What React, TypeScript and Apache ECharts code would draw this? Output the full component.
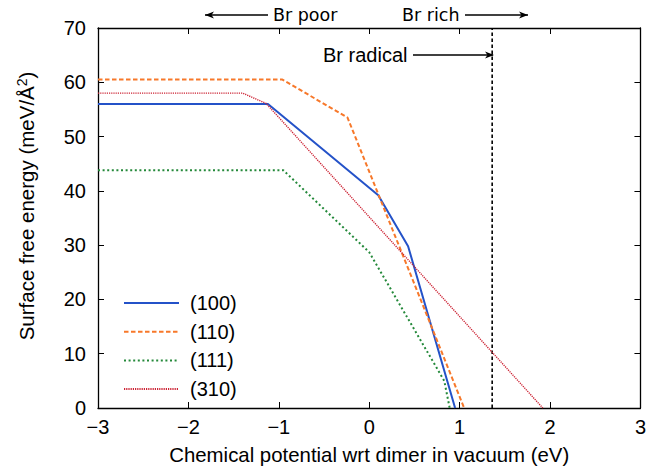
import React, { useEffect, useRef } from "react";
import * as echarts from "echarts";

// Surface free energy (meV/Å²) against Br chemical potential (eV)
const facetNames = ["(100)", "(110)", "(111)", "(310)"];

const energy100: [number, number][] = [
  [-3, 56], [-1.12, 56], [0.1, 39.2], [0.43, 29.8], [0.95, 0],
];
const energy110: [number, number][] = [
  [-3, 60.5], [-0.96, 60.5], [-0.24, 53.5], [1.05, 0],
];
const energy111: [number, number][] = [
  [-3, 43.8], [-0.95, 43.8], [0, 28.7], [0.83, 5], [0.89, 0],
];
const energy310: [number, number][] = [
  [-3, 58], [-1.4, 58], [-1.14, 56.1], [1.92, 0],
];

// Chemical potential of the Br radical
const radicalMu = 1.36;
const radicalLine: [number, number][] = [[radicalMu, 0], [radicalMu, 70]];

const xTicks = { min: -3, max: 3, interval: 1 };
const yTicks = { min: 0, max: 70, interval: 10 };

const colors = ["#2452c8", "#f7782a", "#24893a", "#cc2233"];

const SANS = "'Liberation Sans', Arial, Helvetica, sans-serif";
const DEJAVU = "'DejaVu Sans', sans-serif";

export default function App() {
  const ref = useRef<HTMLDivElement>(null);

  useEffect(() => {
    if (!ref.current) return;
    document.body.style.margin = "0";
    const chart = echarts.init(ref.current, undefined, { renderer: "svg" });

    const minus = (v: number) => String(v).replace("-", "\u2212");
    const frameAxis = {
      axisLine: { show: true, onZero: false, lineStyle: { color: "#000", width: 1.3 } },
      axisTick: { show: true, inside: true, length: 6, lineStyle: { color: "#000", width: 1 } },
      splitLine: { show: false },
    };

    const lineSeries = (
      name: string,
      data: [number, number][],
      color: string,
      width: number,
      type: any
    ) => ({
      name,
      type: "line",
      data,
      symbol: "none",
      color,
      lineStyle: { color, width, type },
      z: 3,
    });

    const arrowHead = (x: number, y: number, dir: 1 | -1) => ({
      type: "polygon",
      shape: {
        points: [
          [x, y],
          [x - dir * 9, y - 3.5],
          [x - dir * 6.5, y],
          [x - dir * 9, y + 3.5],
        ],
      },
      style: { fill: "#000" },
    });
    const arrowShaft = (x1: number, x2: number, y: number) => ({
      type: "line",
      shape: { x1, y1: y, x2, y2: y },
      style: { stroke: "#000", lineWidth: 1.3 },
    });

    chart.setOption({
      animation: false,
      backgroundColor: "#fff",
      grid: { left: 98, right: 4, top: 28, bottom: 66, containLabel: false },
      xAxis: [
        {
          type: "value",
          position: "bottom",
          ...xTicks,
          ...frameAxis,
          axisLabel: {
            color: "#000",
            fontSize: 20,
            fontFamily: SANS,
            margin: 9,
            formatter: minus,
          },
          name: "Chemical potential wrt dimer in vacuum (eV)",
          nameLocation: "middle",
          nameGap: 37,
          nameTextStyle: { color: "#000", fontSize: 20.4, fontFamily: SANS },
        },
        {
          type: "value",
          position: "top",
          ...xTicks,
          ...frameAxis,
          axisLabel: { show: false },
        },
      ],
      yAxis: [
        {
          type: "value",
          position: "left",
          ...yTicks,
          ...frameAxis,
          axisLabel: {
            color: "#000",
            fontSize: 20,
            fontFamily: SANS,
            margin: 12,
          },
          name: "Surface free energy (meV/Å{sup|2})",
          nameLocation: "middle",
          nameRotate: 90,
          nameGap: 61,
          nameTextStyle: {
            color: "#000",
            fontSize: 20.5,
            fontFamily: SANS,
            padding: [0, 0, 0, 24],
            rich: {
              sup: {
                fontSize: 14,
                fontFamily: SANS,
                color: "#000",
                verticalAlign: "top",
                padding: [0, 0, 8, 0],
              },
            },
          },
        },
        {
          type: "value",
          position: "right",
          ...yTicks,
          ...frameAxis,
          axisLabel: { show: false },
        },
      ],
      legend: {
        data: facetNames,
        orient: "vertical",
        left: 118,
        top: 288,
        itemWidth: 55,
        itemHeight: 14,
        itemGap: 8.7,
        itemStyle: { opacity: 0 },
        textStyle: {
          color: "#000",
          fontSize: 20,
          fontFamily: SANS,
          lineHeight: 20,
          padding: [0, 0, 0, 6],
        },
      },
      series: [
        lineSeries(facetNames[0], energy100, colors[0], 2, "solid"),
        lineSeries(facetNames[1], energy110, colors[1], 2, [4.5, 2.5]),
        lineSeries(facetNames[2], energy111, colors[2], 2, [2, 2.6]),
        lineSeries(facetNames[3], energy310, colors[3], 1.4, [1.2, 1]),
        {
          name: "radical",
          type: "line",
          data: radicalLine,
          symbol: "none",
          lineStyle: { color: "#000", width: 1.6, type: [3.5, 2.5] },
          z: 2,
        },
      ],
      graphic: [
        arrowShaft(205, 268, 15),
        arrowHead(205, 15, -1),
        {
          type: "text",
          x: 273,
          y: 15,
          style: {
            text: "Br poor",
            fill: "#000",
            font: `17.5px ${DEJAVU}`,
            verticalAlign: "middle",
          },
        },
        {
          type: "text",
          x: 402,
          y: 15,
          style: {
            text: "Br rich",
            fill: "#000",
            font: `17.5px ${DEJAVU}`,
            verticalAlign: "middle",
          },
        },
        arrowShaft(465, 528, 15),
        arrowHead(528, 15, 1),
        {
          type: "text",
          x: 323,
          y: 55,
          style: {
            text: "Br radical",
            fill: "#000",
            font: `20px ${SANS}`,
            verticalAlign: "middle",
          },
        },
        arrowShaft(413, 493, 55),
        arrowHead(494, 55, 1),
      ],
    });

    return () => chart.dispose();
  }, []);

  return <div ref={ref} style={{ width: 649, height: 474 }} />;
}
